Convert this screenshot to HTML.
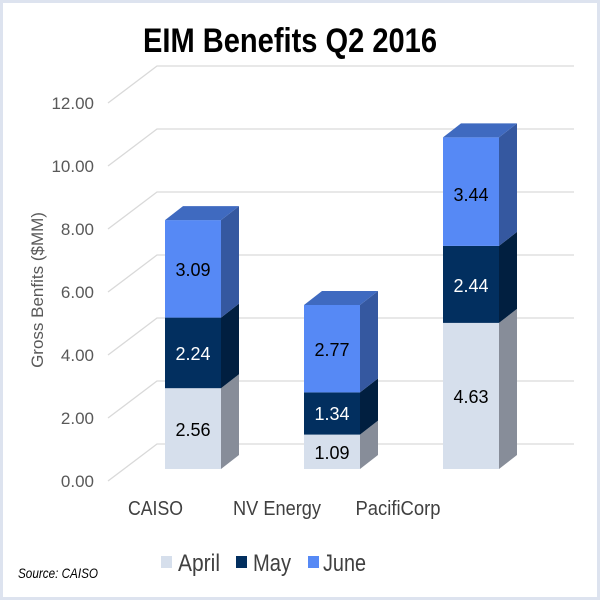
<!DOCTYPE html>
<html><head><meta charset="utf-8"><style>
html,body{margin:0;padding:0;background:#fff}
svg{display:block}
text{font-family:"Liberation Sans",sans-serif}
</style></head><body>
<svg width="600" height="600" viewBox="0 0 600 600">
<rect x="1.5" y="1.5" width="597" height="597" fill="#fff" stroke="#dde3ef" stroke-width="3"/>
<text x="290" y="52" font-size="34" font-weight="bold" text-anchor="middle" textLength="294" lengthAdjust="spacingAndGlyphs" fill="#000">EIM Benefits Q2 2016</text>
<g stroke="#d9d9d9" stroke-width="1.3" fill="none">
<polyline points="108,481 157,444 574,444"/>
<polyline points="108,418 157,381 574,381"/>
<polyline points="108,355 157,318 574,318"/>
<polyline points="108,292 157,255 574,255"/>
<polyline points="108,229 157,192 574,192"/>
<polyline points="108,166 157,129 574,129"/>
<polyline points="108,103 157,66 574,66"/>
</g>
<g font-size="17" fill="#595959" text-anchor="end">
<text x="94" y="487">0.00</text>
<text x="94" y="424">2.00</text>
<text x="94" y="361">4.00</text>
<text x="94" y="298">6.00</text>
<text x="94" y="235">8.00</text>
<text x="94" y="172">10.00</text>
<text x="94" y="109">12.00</text>
</g>
<text transform="translate(43,290) rotate(-90)" font-size="17" fill="#595959" text-anchor="middle">Gross Benfits ($MM)</text>
<g>
<rect x="165" y="388.2" width="56" height="80.8" fill="#d6dfec"/>
<polygon points="221,388.2 239,374.2 239,455 221,469" fill="#878d99"/>
<rect x="165" y="317.6" width="56" height="70.6" fill="#022f5f"/>
<polygon points="221,317.6 239,303.6 239,374.2 221,388.2" fill="#011f40"/>
<rect x="165" y="220.1" width="56" height="97.5" fill="#5689f5"/>
<polygon points="221,220.1 239,206.1 239,303.6 221,317.6" fill="#3558a0"/>
<polygon points="165,220.1 183,206.1 239,206.1 221,220.1" fill="#3f6ac0"/>
</g>
<g>
<rect x="304" y="434.6" width="56" height="34.4" fill="#d6dfec"/>
<polygon points="360,434.6 378,420.6 378,455 360,469" fill="#878d99"/>
<rect x="304" y="392.4" width="56" height="42.2" fill="#022f5f"/>
<polygon points="360,392.4 378,378.4 378,420.6 360,434.6" fill="#011f40"/>
<rect x="304" y="305" width="56" height="87.4" fill="#5689f5"/>
<polygon points="360,305 378,291 378,378.4 360,392.4" fill="#3558a0"/>
<polygon points="304,305 322,291 378,291 360,305" fill="#3f6ac0"/>
</g>
<g>
<rect x="443" y="322.9" width="56" height="146.1" fill="#d6dfec"/>
<polygon points="499,322.9 517,308.9 517,455 499,469" fill="#878d99"/>
<rect x="443" y="245.9" width="56" height="77" fill="#022f5f"/>
<polygon points="499,245.9 517,231.9 517,308.9 499,322.9" fill="#011f40"/>
<rect x="443" y="137.4" width="56" height="108.5" fill="#5689f5"/>
<polygon points="499,137.4 517,123.4 517,231.9 499,245.9" fill="#3558a0"/>
<polygon points="443,137.4 461,123.4 517,123.4 499,137.4" fill="#3f6ac0"/>
</g>
<g font-size="18" text-anchor="middle">
<text x="193" y="436" fill="#000">2.56</text>
<text x="193" y="360" fill="#fff">2.24</text>
<text x="193" y="276" fill="#000">3.09</text>
<text x="332" y="459" fill="#000">1.09</text>
<text x="332" y="420" fill="#fff">1.34</text>
<text x="332" y="356" fill="#000">2.77</text>
<text x="471" y="403" fill="#000">4.63</text>
<text x="471" y="292" fill="#fff">2.44</text>
<text x="471" y="201" fill="#000">3.44</text>
</g>
<g font-size="20" fill="#404040" text-anchor="middle">
<text x="155.5" y="515" textLength="55" lengthAdjust="spacingAndGlyphs">CAISO</text>
<text x="277" y="515" textLength="88" lengthAdjust="spacingAndGlyphs">NV Energy</text>
<text x="398" y="515" textLength="85" lengthAdjust="spacingAndGlyphs">PacifiCorp</text>
</g>
<rect x="161" y="556" width="11" height="12" fill="#d6dfec"/>
<rect x="236" y="556" width="11" height="12" fill="#022f5f"/>
<rect x="308" y="556" width="11" height="12" fill="#5689f5"/>
<g font-size="24" fill="#404040">
<text x="178" y="571" textLength="42" lengthAdjust="spacingAndGlyphs">April</text>
<text x="253" y="571" textLength="38" lengthAdjust="spacingAndGlyphs">May</text>
<text x="323" y="571" textLength="43" lengthAdjust="spacingAndGlyphs">June</text>
</g>
<text x="18" y="578" font-size="14" font-style="italic" fill="#000" textLength="80" lengthAdjust="spacingAndGlyphs">Source: CAISO</text>
</svg>
</body></html>
